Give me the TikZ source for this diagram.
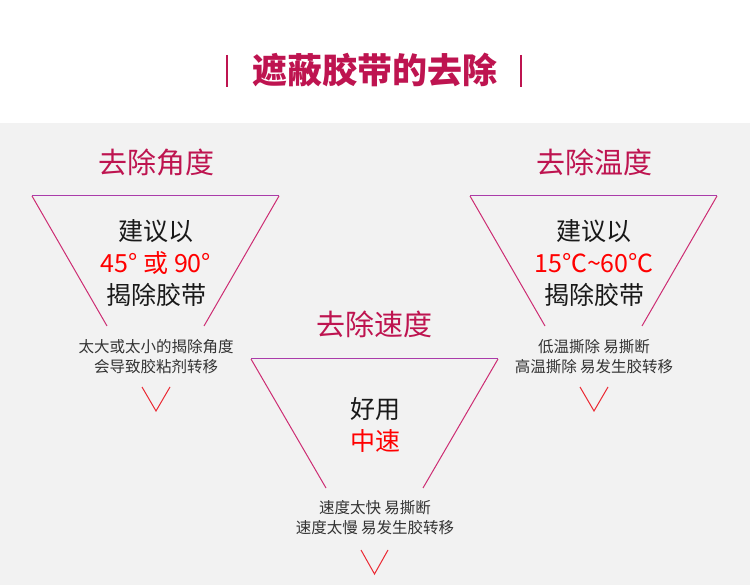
\documentclass[tikz,border=0pt]{standalone}
\usepackage{fontspec}
\setmainfont{Noto Sans CJK SC}
\usetikzlibrary{positioning}
\definecolor{headred}{RGB}{190,20,80}
\definecolor{tritop}{RGB}{170,60,170}
\definecolor{triside}{RGB}{205,45,115}
\definecolor{vred}{RGB}{235,40,50}
\definecolor{bggray}{RGB}{242,242,242}
\definecolor{txtgray}{RGB}{51,51,51}

\begin{document}
\begin{tikzpicture}
		[x=1pt, y=-1pt, node distance={32pt}, inner sep=0pt,
		title/.style = {text=headred, font=\fontsize{35}{40}\selectfont\bfseries},
		head/.style = {text=headred, font=\fontsize{29}{34}\selectfont},
		big/.style = {text=black!90, font=\fontsize{25}{30}\selectfont},
		hot/.style = {big, text=red},
		small/.style = {text=txtgray, align=center, font=\fontsize{15.5}{20}\selectfont},
		rimline/.style = {draw=tritop, line width=1pt},
		sideline/.style = {draw=triside, line width=1pt},
		tipline/.style = {draw=vred, line width=1pt},
		bar/.style = {draw=headred, line width=2.5pt}]
	\useasboundingbox (0,0) rectangle (750,585);
	\fill[white] (0,0) rectangle (750,123);
	\fill[bggray] (0,123) rectangle (750,585);
	% title
	\node[title] (t) at (375,70) {遮蔽胶带的去除};
	\coordinate (t1) at (227,55);
	\coordinate (t2) at (227,87);
	\coordinate (t3) at (521,55);
	\coordinate (t4) at (521,87);
	\draw[bar] (t1) -- (t2);
	\draw[bar] (t3) -- (t4);
	% headings
	\node[head] (h1) at (156,162) {去除角度};
	\node[head] (h2) at (374.5,324) {去除速度};
	\node[head] (h3) at (594,162) {去除温度};
	% left triangle
	\coordinate (l1) at (32,196);
	\coordinate (l2) at (279,196);
	\coordinate (l3) at (107,326);
	\coordinate (l4) at (204,326);
	\coordinate (l5) at (142,387);
	\coordinate (l6) at (156,411);
	\coordinate (l7) at (170,387);
	\draw[rimline] (l1) -- (l2);
	\draw[sideline] (l1) -- (l3);
	\draw[sideline] (l2) -- (l4);
	\draw[tipline] (l5) -- (l6) -- (l7);
	% middle triangle
	\coordinate (m1) at (251,359);
	\coordinate (m2) at (498,359);
	\coordinate (m3) at (326,488);
	\coordinate (m4) at (423,488);
	\coordinate (m5) at (361,550);
	\coordinate (m6) at (374.5,574);
	\coordinate (m7) at (388,550);
	\draw[rimline] (m1) -- (m2);
	\draw[sideline] (m1) -- (m3);
	\draw[sideline] (m2) -- (m4);
	\draw[tipline] (m5) -- (m6) -- (m7);
	% right triangle
	\coordinate (r1) at (470,196);
	\coordinate (r2) at (717,196);
	\coordinate (r3) at (545,326);
	\coordinate (r4) at (642,326);
	\coordinate (r5) at (580,387);
	\coordinate (r6) at (594,411);
	\coordinate (r7) at (608,387);
	\draw[rimline] (r1) -- (r2);
	\draw[sideline] (r1) -- (r3);
	\draw[sideline] (r2) -- (r4);
	\draw[tipline] (r5) -- (r6) -- (r7);
	% texts
	\node[big] (a1) at (156,231) {建议以};
	\node[hot] (a2) [below of = a1] {45° 或 90°};
	\node[big] (a3) [below of = a2] {揭除胶带};
	\node[small] (a4) at (156,357) {太大或太小的揭除角度\\会导致胶粘剂转移};
	\node[big] (b1) at (375,409) {好用};
	\node[hot] (b2) [below of = b1] {中速};
	\node[small] (b3) at (375,518) {速度太快 易撕断\\速度太慢 易发生胶转移};
	\node[big] (c1) at (594,231) {建议以};
	\node[hot] (c2) [below of = c1] {15℃\textasciitilde60℃};
	\node[big] (c3) [below of = c2] {揭除胶带};
	\node[small] (c4) at (594,357) {低温撕除 易撕断\\高温撕除 易发生胶转移};
\end{tikzpicture}
\end{document}
